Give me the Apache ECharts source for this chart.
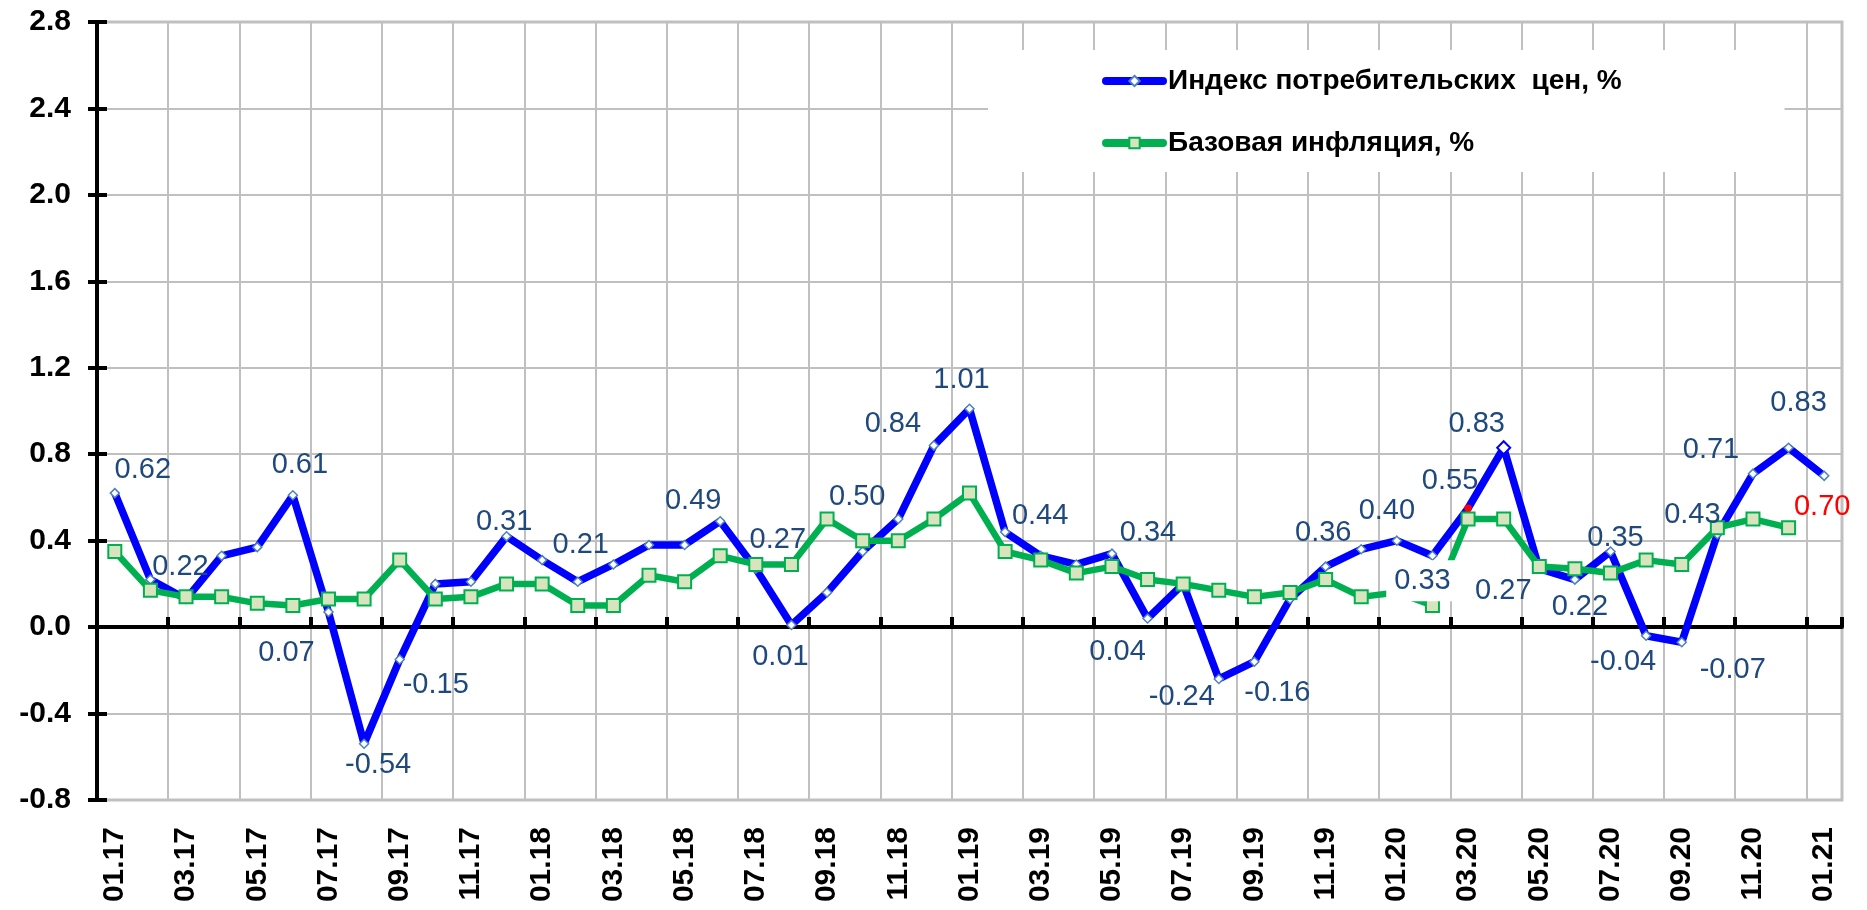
<!DOCTYPE html>
<html>
<head>
<meta charset="utf-8">
<script src="https://cdn.jsdelivr.net/npm/echarts@6/dist/echarts.min.js"></script>
<style>
  html, body { margin: 0; padding: 0; background: #fff; }
  #chart { width: 1867px; height: 910px; }
</style>
</head>
<body>
<div id="chart"></div>
<script>
const months = [
  '01.17', '02.17', '03.17', '04.17', '05.17', '06.17', '07.17', '08.17', '09.17', '10.17', '11.17', '12.17',
  '01.18', '02.18', '03.18', '04.18', '05.18', '06.18', '07.18', '08.18', '09.18', '10.18', '11.18', '12.18',
  '01.19', '02.19', '03.19', '04.19', '05.19', '06.19', '07.19', '08.19', '09.19', '10.19', '11.19', '12.19',
  '01.20', '02.20', '03.20', '04.20', '05.20', '06.20', '07.20', '08.20', '09.20', '10.20', '11.20', '12.20',
  '01.21'
]

// Индекс потребительских цен, % (м/м)
const cpi = [
  0.62, 0.22, 0.13, 0.33, 0.37, 0.61, 0.07, -0.54, -0.15, 0.20, 0.21, 0.42,
  0.31, 0.21, 0.29, 0.38, 0.38, 0.49, 0.27, 0.01, 0.16, 0.35, 0.50, 0.84,
  1.01, 0.44, 0.33, 0.29, 0.34, 0.04, 0.20, -0.24, -0.16, 0.13, 0.28, 0.36,
  0.40, 0.33, 0.55, 0.83, 0.27, 0.22, 0.35, -0.04, -0.07, 0.43, 0.71, 0.83,
  0.70
]

// Базовая инфляция, %
const core = [
  0.35, 0.17, 0.14, 0.14, 0.11, 0.10, 0.13, 0.13, 0.31, 0.13, 0.14, 0.20,
  0.20, 0.10, 0.10, 0.24, 0.21, 0.33, 0.29, 0.29, 0.50, 0.40, 0.40, 0.50,
  0.62, 0.35, 0.31, 0.25, 0.28, 0.22, 0.20, 0.17, 0.14, 0.16, 0.22, 0.14,
  0.16, 0.10, 0.50, 0.50, 0.28, 0.27, 0.25, 0.31, 0.29, 0.46, 0.50, 0.46
]

const seriesNames = ['Индекс потребительских  цен, %', 'Базовая инфляция, %']

// сдвиги подписей относительно точки (index -> [dx, dy])
const labelNudge = {
  0: [28, -23], 1: [30, -13], 5: [7, -30], 6: [-42, 41], 7: [14, 21], 8: [36, 25],
  12: [-38, -38], 13: [3, -37], 17: [-27, -20], 18: [22, -29], 19: [-11, 32],
  22: [-41, -22], 23: [-41, -22], 24: [-8, -29], 25: [35, -16], 28: [36, -21],
  29: [-30, 34], 31: [-37, 18], 32: [23, 31], 35: [-38, -16], 36: [-10, -30],
  37: [-10, 25], 38: [-18, -27], 39: [-27, -24], 40: [-36, 22], 41: [5, 27],
  42: [5, -13], 43: [-23, 26], 44: [51, 28], 45: [-25, -19], 46: [-42, -24],
  47: [10, -45], 48: [-2, 31]
}

const FONT = "'Liberation Sans', Arial, sans-serif"
const GRID_GRAY = '#c0c0c0'

const cpiData = cpi.map((v, i) => {
  const item = { value: v }
  const nudge = labelNudge[i]
  if (nudge) {
    item.label = { show: true, offset: nudge }
    if (i === 37) {
      item.label.backgroundColor = '#fff'
      item.label.padding = [6, 8]
    }
    if (i === cpi.length - 1) {
      item.label.color = '#ff0000'
    }
  }
  if (i === 38) {
    item.symbol = 'circle'
    item.symbolSize = 6
    item.itemStyle = { color: '#ff0000', borderColor: '#ff0000' }
  }
  if (i === 39) {
    item.symbolSize = 13
    item.itemStyle = { borderColor: '#0000ff', borderWidth: 2 }
  }
  return item
})

const chart = echarts.init(document.getElementById('chart'))

const option = {
  animation: false,
  textStyle: { fontFamily: FONT },
  grid: {
    left: 97, right: 25, top: 22, bottom: 110,
    show: true, borderColor: GRID_GRAY, borderWidth: 3
  },
  legend: {
    orient: 'vertical',
    left: 988, top: 50,
    padding: [16, 163, 14, 114],
    backgroundColor: '#fff',
    itemWidth: 57, itemHeight: 13, itemGap: 32,
    lineStyle: { width: 8, cap: 'round' },
    textStyle: { fontSize: 28, fontWeight: 'bold', color: '#000', lineHeight: 30, fontFamily: FONT },
    data: seriesNames
  },
  xAxis: [
    {
      type: 'category',
      data: months,
      boundaryGap: true,
      axisLine: { onZero: false, show: false },
      axisTick: { show: false },
      axisLabel: {
        interval: 1, rotate: 90, margin: 27,
        fontSize: 30, fontWeight: 'bold', color: '#000', fontFamily: FONT
      },
      splitLine: { show: true, interval: 1, lineStyle: { color: GRID_GRAY, width: 2 } }
    },
    {
      type: 'category',
      data: months,
      boundaryGap: true,
      axisLine: { onZero: true, lineStyle: { color: '#000', width: 4 } },
      axisTick: { show: true, interval: 1, length: 10, lineStyle: { color: '#000', width: 4 } },
      axisLabel: { show: false },
      splitLine: { show: false }
    }
  ],
  yAxis: [
    {
      type: 'value',
      min: -0.8, max: 2.8, interval: 0.4,
      axisLine: { show: true, lineStyle: { color: '#000', width: 4 } },
      axisTick: { show: true, length: 9, lineStyle: { color: '#000', width: 4 } },
      axisLabel: {
        margin: 26, fontSize: 30, fontWeight: 'bold', color: '#000', fontFamily: FONT,
        formatter: v => v.toFixed(1)
      },
      splitLine: { show: true, lineStyle: { color: GRID_GRAY, width: 2 } }
    },
    {
      type: 'value',
      min: -0.8, max: 2.8, interval: 0.4,
      position: 'left',
      axisLine: { show: false },
      axisTick: { show: true, inside: true, length: 10, lineStyle: { color: '#000', width: 4 } },
      axisLabel: { show: false },
      splitLine: { show: false }
    }
  ],
  series: [
    {
      name: seriesNames[0],
      type: 'line',
      data: cpiData,
      symbol: 'diamond',
      symbolSize: 9,
      lineStyle: { color: '#0000ff', width: 7.5 },
      itemStyle: { color: '#fff', borderColor: '#4f81bd', borderWidth: 1.5 },
      label: {
        show: false,
        position: 'inside',
        fontSize: 29,
        color: '#1f497d',
        fontFamily: FONT,
        formatter: p => p.value.toFixed(2)
      }
    },
    {
      name: seriesNames[1],
      type: 'line',
      data: core,
      symbol: 'rect',
      symbolSize: 13,
      lineStyle: { color: '#00b050', width: 6.5 },
      itemStyle: { color: '#d7e4bd', borderColor: '#00b050', borderWidth: 2 }
    }
  ]
}

chart.setOption(option)
</script>
</body>
</html>
